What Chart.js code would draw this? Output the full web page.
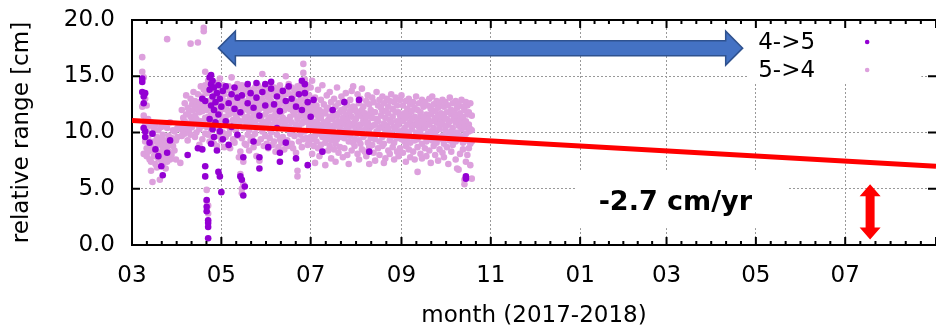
<!DOCTYPE html>
<html>
<head>
<meta charset="utf-8">
<script src="https://cdn.jsdelivr.net/npm/chart.js@4.4.1/dist/chart.umd.min.js"></script>
<style>
  html, body { margin: 0; padding: 0; background: #fff; }
  #wrap { position: relative; width: 936px; height: 327px; }
</style>
</head>
<body>
<div id="wrap"><canvas id="range-chart"></canvas></div>
<script>
// x values are days since 2017-03-01
const tickDays = [0, 61, 122, 184, 245, 306, 365, 426, 487, 549];
const tickLabels = ['03', '05', '07', '09', '11', '01', '03', '05', '07', ''];
const yTicks = [0, 5, 10, 15, 20];

const seriesNames = ['4->5', '5->4'];
const seriesColors = ['#9400d3', '#dda0dd'];

// rows: [day, value, value, ...]  (relative range in cm)
const purpleMarApr = [
  [7, 14.8, 14.5, 13.6], [8, 13.2, 12.6, 10.4], [9, 13.5, 10.1, 9.6],
  [12, 9.1], [14, 9.9], [16, 8.5], [18, 7.9], [20, 7.0], [21, 6.2],
  [24, 8.2], [26, 9.3], [38, 8.0], [45, 8.6], [48, 8.5, 13.0],
  [50, 12.8, 7.0, 6.1], [51, 4.0, 3.4, 3.0], [52, 2.2, 1.95, 1.6, 0.6],
  [53, 14.9, 13.8, 11.2], [54, 15.1, 14.3, 12.4, 9.0], [55, 14.6, 13.2, 10.3],
  [56, 14.0, 12.0, 9.6], [57, 12.7, 10.9], [58, 13.5, 8.4], [59, 14.2, 6.5, 11.6], [60, 6.1, 13.0, 10.1]
];
const purpleMayJun = [
  [61, 4.7, 12.3], [62, 13.7, 9.4], [64, 14.1, 11.0], [66, 12.6, 8.9], [68, 13.4, 10.5],
  [70, 14.0, 12.1], [72, 13.1, 9.8], [74, 6.1, 11.8], [75, 5.8, 13.3], [76, 4.4, 7.8],
  [77, 5.2], [79, 14.3, 12.6], [81, 13.5], [83, 12.2, 9.2], [85, 14.4, 13.1],
  [87, 6.8, 7.8, 11.5], [89, 13.6], [91, 14.3, 12.4], [93, 8.7], [95, 13.9, 14.5],
  [97, 12.5], [99, 13.2, 10.4], [101, 7.4, 8.2, 11.9], [103, 13.7], [105, 12.8, 9.1],
  [107, 14.1], [109, 13.0], [112, 7.7, 12.3], [114, 13.4], [116, 14.6, 12.0],
  [118, 14.3, 13.5], [120, 7.1, 12.7], [122, 11.4]
];
const purpleLater = [
  [124, 12.9], [130, 8.3], [137, 12.0], [145, 12.7], [155, 12.9], [162, 8.3], [228, 6.1, 5.9]
];

const plumMarApr = [
  [7, 16.7, 15.4, 12.3], [8, 14.9, 11.5, 10.4, 8.1], [9, 13.0, 10.8, 9.2],
  [10, 12.4, 10.1, 8.6, 7.9], [11, 11.2, 9.5, 8.3], [12, 10.6, 9.0, 7.6],
  [13, 10.9, 8.8, 7.4, 6.6], [14, 9.9, 8.4, 5.6], [15, 10.3, 9.2, 7.9],
  [16, 10.7, 8.6, 7.2], [17, 9.6, 8.1, 6.9], [18, 10.2, 9.0, 7.7],
  [19, 9.4, 8.2, 5.8], [20, 10.5, 8.9, 7.5], [21, 9.8, 8.5, 7.1],
  [22, 10.8, 9.3, 8.0], [23, 9.1, 7.8, 6.8], [24, 18.3, 10.4, 8.7, 7.4],
  [25, 9.7, 8.3], [26, 10.9, 9.1, 7.6], [27, 9.5, 8.0], [28, 10.2, 8.8],
  [29, 10.1, 8.4], [30, 9.3, 7.6], [31, 10.4, 9.6], [33, 10.3, 7.3],
  [34, 12.0, 10.6, 9.7], [35, 11.3, 10.1], [36, 12.6, 11.0, 9.9], [37, 13.3, 11.6, 10.4],
  [38, 12.2, 10.8, 9.3], [39, 11.9, 10.2], [40, 17.9, 13.0, 11.4, 9.8], [41, 12.5, 11.1, 10.5],
  [42, 13.6, 12.0, 10.9], [43, 12.8, 11.5, 9.6], [44, 12.3, 11.2, 10.0], [45, 18.0, 13.4, 12.1, 10.7],
  [46, 12.7, 11.8, 10.3, 8.9], [47, 14.1, 12.4, 11.0], [48, 13.2, 11.9, 10.6, 9.4],
  [49, 19.3, 19.0, 13.8, 12.2, 10.8], [50, 15.4, 14.2, 12.6, 11.3, 9.9],
  [51, 13.5, 12.0, 10.5, 4.9, 3.9], [52, 14.6, 12.8, 11.4, 9.8, 3.5, 2.8],
  [53, 13.9, 12.3, 10.9, 9.2], [54, 14.3, 12.9, 11.6, 10.2], [55, 13.1, 12.1, 10.8, 9.5],
  [56, 14.0, 12.5, 11.2, 9.0], [57, 13.6, 11.8, 10.4], [58, 14.4, 12.7, 11.5, 8.8],
  [59, 13.3, 12.2, 10.6, 9.7], [60, 14.8, 13.0, 11.7, 10.1]
];
const plumMayJun = [
  [61, 13.7, 12.4, 11.0, 9.3], [62, 14.2, 12.9, 11.3, 10.0], [63, 13.4, 12.1, 10.7, 8.7],
  [64, 13.9, 12.6, 11.4, 9.6], [65, 13.8, 12.0, 10.9], [66, 14.1, 12.8, 11.6, 9.9],
  [67, 13.2, 11.7, 10.3, 8.6], [68, 14.9, 13.1, 11.9, 10.5], [69, 13.5, 12.3, 11.1, 9.4],
  [70, 14.0, 12.7, 10.8, 9.1], [71, 13.6, 12.2, 11.5, 10.2], [72, 14.3, 12.5, 11.2, 9.7],
  [73, 13.0, 11.8, 10.6, 7.8], [74, 13.9, 12.4, 11.0, 8.3, 6.3], [75, 14.2, 12.9, 11.7, 9.5, 5.0, 4.6],
  [76, 13.4, 12.0, 10.4, 7.4, 5.4], [77, 14.0, 12.6, 11.3, 9.0], [78, 13.7, 12.3, 10.9, 8.9],
  [79, 13.6, 12.8, 11.4, 9.8], [80, 13.1, 11.9, 10.2, 8.4], [81, 13.8, 12.6, 11.1, 9.3],
  [82, 13.2, 12.2, 10.7, 9.6], [83, 13.3, 12.0, 11.5, 8.7], [84, 14.0, 12.7, 10.9, 9.9],
  [85, 13.5, 11.8, 10.4, 7.9], [86, 14.2, 12.4, 11.2, 9.1], [87, 13.0, 12.1, 10.6, 7.5],
  [88, 13.9, 12.5, 11.3, 9.4], [89, 15.2, 12.9, 11.0, 10.1], [90, 13.4, 12.2, 10.5, 8.8],
  [91, 14.1, 12.6, 11.6, 9.7], [92, 13.6, 11.9, 10.8, 9.0], [93, 13.1, 12.3, 11.1, 8.6],
  [94, 13.2, 12.0, 10.3, 9.5], [95, 14.0, 12.8, 11.4, 10.0], [96, 13.7, 12.4, 10.7, 8.9],
  [97, 14.0, 12.1, 11.2, 9.2], [98, 13.3, 11.7, 10.6, 8.3], [99, 13.5, 12.6, 11.5, 9.8],
  [100, 13.8, 12.2, 10.9, 8.7], [101, 14.2, 12.5, 11.0, 9.4], [102, 13.1, 11.8, 10.4, 9.1],
  [103, 13.4, 12.9, 11.3, 9.6], [104, 13.6, 12.0, 10.8, 8.5], [105, 15.0, 13.4, 12.3, 10.6],
  [106, 13.9, 12.2, 11.1, 9.3], [107, 14.3, 12.7, 10.5, 8.8], [108, 13.4, 12.1, 11.4, 9.9],
  [109, 14.0, 12.4, 10.9, 9.0], [110, 13.2, 11.9, 10.3, 8.6], [111, 13.8, 12.8, 11.6, 9.7],
  [112, 13.7, 12.3, 10.7, 8.2], [113, 14.1, 12.0, 11.2, 6.6, 6.1], [114, 13.5, 12.5, 10.6, 9.2],
  [115, 14.2, 12.9, 11.5, 9.8], [116, 13.9, 12.2, 10.8, 8.7], [117, 16.1, 15.3, 13.6, 12.4, 11.0, 9.4],
  [118, 14.7, 13.0, 11.7, 10.1], [119, 13.8, 12.6, 11.3, 9.5], [120, 14.2, 12.1, 10.9, 8.9],
  [121, 13.3, 11.8, 10.5, 9.1], [122, 14.0, 12.5, 11.2, 9.6]
];
const plumJulAug = [
  [123, 14.6, 12.2, 10.9, 9.4, 8.1], [124, 11.6, 10.3, 8.8], [125, 13.1, 11.9, 10.6, 9.7, 7.3],
  [126, 12.4, 11.0, 9.2], [127, 13.8, 11.5, 10.1, 8.6], [128, 12.0, 10.7, 9.9, 7.9],
  [129, 12.9, 11.3, 10.4, 8.9], [130, 14.2, 11.8, 9.6, 8.3], [131, 12.5, 10.9, 10.0],
  [132, 11.7, 10.5, 9.1, 7.1], [133, 13.3, 12.1, 10.8, 9.5], [134, 12.2, 11.1, 9.8, 8.4],
  [135, 13.6, 11.4, 10.2, 8.8], [136, 12.7, 10.6, 9.3, 7.7], [137, 11.9, 11.2, 10.3],
  [138, 13.0, 11.7, 9.7, 8.5], [139, 12.3, 10.8, 9.0, 7.4], [140, 14.0, 11.5, 10.6, 9.4],
  [141, 12.6, 11.0, 9.9, 8.2], [142, 11.8, 10.4, 8.7], [143, 13.2, 12.0, 10.9, 9.6],
  [144, 12.8, 11.3, 10.1, 7.8], [145, 12.1, 10.7, 9.5, 8.6], [146, 13.5, 11.6, 10.2],
  [147, 12.4, 11.1, 9.8, 8.0], [148, 11.6, 10.5, 9.2, 7.2], [149, 12.9, 11.9, 10.8, 9.7],
  [150, 13.7, 11.4, 10.0, 8.4], [151, 14.1, 12.3, 10.6, 9.1], [152, 12.2, 10.9, 9.4, 8.8],
  [153, 11.9, 11.2, 10.3], [154, 13.4, 11.7, 9.9, 8.1], [155, 12.6, 10.6, 9.3, 7.6],
  [156, 13.0, 11.5, 10.7, 9.0], [157, 13.9, 12.0, 10.2, 8.5], [158, 12.3, 11.1, 9.6],
  [159, 11.7, 10.8, 9.8, 8.3], [160, 12.8, 11.4, 10.4, 7.9], [161, 13.3, 10.9, 9.1],
  [162, 12.5, 11.6, 10.0, 8.7, 7.2], [163, 12.0, 10.5, 9.5], [164, 13.1, 11.3, 10.6, 8.9],
  [165, 12.7, 11.8, 9.7, 8.2], [166, 11.8, 10.7, 9.4, 7.5], [167, 13.6, 11.2, 10.1],
  [168, 12.4, 11.0, 9.9, 8.6], [169, 12.9, 10.4, 9.2, 8.0], [170, 12.2, 11.5, 10.5],
  [171, 13.2, 11.9, 9.6, 8.8], [172, 12.6, 10.8, 9.0, 7.3], [173, 11.9, 11.3, 10.2, 7.7],
  [174, 13.0, 10.6, 9.8], [175, 12.3, 11.7, 10.4, 8.4], [176, 12.8, 11.1, 9.3, 8.1],
  [177, 13.4, 10.9, 10.0], [178, 12.1, 11.4, 9.7, 8.7], [179, 12.7, 10.5, 9.1, 7.6],
  [180, 13.1, 11.8, 10.3], [181, 12.4, 11.0, 9.5, 8.3], [182, 11.8, 10.7, 9.9, 7.9],
  [183, 12.9, 11.5, 10.1, 8.6], [184, 13.3, 11.2, 9.4]
];
const plumSepOct = [
  [185, 12.4, 11.0, 9.7, 8.2], [186, 11.7, 10.4, 9.2], [187, 12.8, 11.3, 10.1, 8.8, 7.4],
  [188, 12.1, 10.7, 9.5], [189, 13.0, 11.6, 9.9, 8.5], [190, 12.5, 10.9, 9.1, 7.8],
  [191, 11.9, 11.2, 10.3], [192, 12.7, 10.6, 9.6, 8.3], [193, 12.2, 11.4, 9.3, 7.6],
  [194, 13.2, 10.8, 10.0], [195, 12.0, 11.1, 9.4, 8.7, 6.5], [196, 12.6, 10.5, 9.8],
  [197, 11.8, 11.5, 10.2, 8.1], [198, 12.9, 10.9, 9.0, 7.7], [199, 12.3, 11.3, 9.7],
  [200, 12.7, 10.6, 10.4, 8.6], [201, 11.6, 10.8, 9.2, 7.9], [202, 12.4, 11.2, 9.9],
  [203, 13.0, 10.7, 9.5, 8.4], [204, 12.1, 11.6, 10.1, 7.3], [205, 13.2, 11.0, 9.3],
  [206, 12.5, 10.4, 9.8, 8.8], [207, 11.9, 11.3, 10.0, 8.0], [208, 12.8, 10.9, 9.1],
  [209, 12.2, 11.5, 9.6, 7.5], [210, 12.6, 10.6, 10.3, 8.5], [211, 11.7, 11.1, 9.4],
  [212, 12.9, 10.8, 9.7, 8.2], [213, 12.3, 11.4, 9.0, 7.8], [214, 12.7, 10.5, 10.2],
  [215, 11.8, 11.2, 9.5, 8.7], [216, 12.4, 10.7, 9.9, 7.2], [217, 13.1, 11.0, 9.3],
  [218, 12.0, 11.6, 10.1, 8.3], [219, 12.6, 10.4, 9.6, 8.9], [220, 11.9, 11.3, 9.8],
  [221, 12.8, 10.9, 9.2, 7.6], [222, 12.2, 11.5, 10.0, 6.8], [223, 12.5, 10.6, 9.4, 6.7],
  [224, 11.7, 11.1, 9.7, 8.1], [225, 12.9, 10.8, 10.3], [226, 12.3, 11.4, 9.1, 8.5],
  [227, 12.0, 10.5, 9.5, 5.8, 5.4], [228, 12.7, 11.0, 9.9, 7.4], [229, 12.4, 11.6, 9.3, 8.0],
  [230, 11.8, 10.7, 10.1, 8.6], [231, 12.6, 10.3, 9.0, 7.1], [232, 11.5, 10.2, 9.2, 5.9]
];

// linear fit, -2.7 cm/yr
const trendDays = [0, 549];
const trendValues = [11.07, 7.0];

// annotations (data coordinates)
const blueArrowDays = [59, 417];
const blueArrowValue = 17.5;
const redArrowDay = 504;
const redArrowValues = [0.5, 5.4];
const rateLabel = '-2.7 cm/yr';

const FONT = '"DejaVu Sans", sans-serif';

const rowsToPoints = rows => rows.flatMap(r => r.slice(1).map(v => ({ x: r[0], y: v })));

const decorations = {
  id: 'decorations',
  beforeDatasetsDraw(chart) {
    const { ctx, scales: { x, y } } = chart;
    ctx.save();
    ctx.fillStyle = '#fff';
    // legend key box
    ctx.fillRect(x.getPixelForValue(421), y.getPixelForValue(20) + 1,
      x.getPixelForValue(539) - x.getPixelForValue(421), y.getPixelForValue(14.4) - y.getPixelForValue(20));
    // box behind the rate label
    ctx.fillRect(x.getPixelForValue(302.6), y.getPixelForValue(6.67),
      x.getPixelForValue(447.4) - x.getPixelForValue(302.6), y.getPixelForValue(1.5) - y.getPixelForValue(6.67));
    ctx.restore();
  },
  afterDatasetsDraw(chart) {
    const { ctx, scales: { x, y } } = chart;
    ctx.save();

    // blue double arrow
    const x1 = x.getPixelForValue(blueArrowDays[0]), x2 = x.getPixelForValue(blueArrowDays[1]);
    const yc = y.getPixelForValue(blueArrowValue);
    const sh = 7.5, hh = 17, hl = 17;
    ctx.beginPath();
    ctx.moveTo(x1, yc);
    ctx.lineTo(x1 + hl, yc - hh); ctx.lineTo(x1 + hl, yc - sh);
    ctx.lineTo(x2 - hl, yc - sh); ctx.lineTo(x2 - hl, yc - hh);
    ctx.lineTo(x2, yc);
    ctx.lineTo(x2 - hl, yc + hh); ctx.lineTo(x2 - hl, yc + sh);
    ctx.lineTo(x1 + hl, yc + sh); ctx.lineTo(x1 + hl, yc + hh);
    ctx.closePath();
    ctx.fillStyle = '#4472c4';
    ctx.fill();
    ctx.strokeStyle = '#2f528f';
    ctx.lineWidth = 1.5;
    ctx.stroke();

    // red vertical double arrow
    const xr = x.getPixelForValue(redArrowDay);
    const yb = y.getPixelForValue(redArrowValues[0]), yt = y.getPixelForValue(redArrowValues[1]);
    const sw = 4.5, hw = 10.5, hv = 12;
    ctx.beginPath();
    ctx.moveTo(xr, yt);
    ctx.lineTo(xr + hw, yt + hv); ctx.lineTo(xr + sw, yt + hv);
    ctx.lineTo(xr + sw, yb - hv); ctx.lineTo(xr + hw, yb - hv);
    ctx.lineTo(xr, yb);
    ctx.lineTo(xr - hw, yb - hv); ctx.lineTo(xr - sw, yb - hv);
    ctx.lineTo(xr - sw, yt + hv); ctx.lineTo(xr - hw, yt + hv);
    ctx.closePath();
    ctx.fillStyle = '#ff0000';
    ctx.fill();

    // rate label
    ctx.fillStyle = '#000';
    ctx.font = 'bold 27px ' + FONT;
    ctx.textAlign = 'center';
    ctx.textBaseline = 'middle';
    ctx.fillText(rateLabel, x.getPixelForValue(371), y.getPixelForValue(3.73));

    // key
    ctx.font = '23px ' + FONT;
    ctx.textAlign = 'left';
    [17.96, 15.47].forEach((v, i) => {
      const py = y.getPixelForValue(v);
      ctx.fillStyle = '#000';
      ctx.fillText(seriesNames[i], x.getPixelForValue(427.6), py);
      ctx.fillStyle = seriesColors[i];
      ctx.beginPath();
      ctx.arc(x.getPixelForValue(502), py - 1, 2.3, 0, Math.PI * 2);
      ctx.fill();
    });
    ctx.restore();
  },
  afterDraw(chart) {
    const { ctx, chartArea: a, scales: { x, y } } = chart;
    ctx.save();
    ctx.strokeStyle = '#000';
    ctx.lineWidth = 2;
    ctx.beginPath();
    ctx.moveTo(a.left - 1, a.top); ctx.lineTo(a.right, a.top);
    tickDays.forEach((d, i) => {
      const px = x.getPixelForValue(d);
      ctx.moveTo(px, a.top); ctx.lineTo(px, a.top + 8);
      ctx.moveTo(px, a.bottom); ctx.lineTo(px, a.bottom - 8);
      if (i < tickDays.length - 1) {
        for (let k = 1; k < 6; k++) {
          const m = x.getPixelForValue(d + (tickDays[i + 1] - d) * k / 6);
          ctx.moveTo(m, a.top); ctx.lineTo(m, a.top + 4);
          ctx.moveTo(m, a.bottom); ctx.lineTo(m, a.bottom - 4);
        }
      }
    });
    yTicks.forEach(v => {
      const py = y.getPixelForValue(v);
      ctx.moveTo(a.left, py); ctx.lineTo(a.left + 8, py);
      ctx.moveTo(a.right, py); ctx.lineTo(a.right - 8, py);
    });
    ctx.stroke();
    ctx.restore();
  }
};

const setupChart = () => {
  const ctx = document.getElementById('range-chart').getContext('2d');
  new Chart(ctx, {
    type: 'scatter',
    data: {
      datasets: [
        {
          type: 'line',
          data: trendDays.map((d, i) => ({ x: d, y: trendValues[i] })),
          borderColor: '#ff0000',
          borderWidth: 5,
          pointRadius: 0,
          showLine: true,
          order: 0
        },
        {
          label: seriesNames[0],
          data: rowsToPoints([...purpleMarApr, ...purpleMayJun, ...purpleLater]),
          backgroundColor: seriesColors[0],
          pointRadius: 3.3,
          borderWidth: 0,
          order: 1
        },
        {
          label: seriesNames[1],
          data: rowsToPoints([...plumMarApr, ...plumMayJun, ...plumJulAug, ...plumSepOct]),
          backgroundColor: seriesColors[1],
          pointRadius: 3.3,
          borderWidth: 0,
          order: 2
        }
      ]
    },
    options: {
      responsive: true,
      maintainAspectRatio: false,
      animation: false,
      layout: { autoPadding: false, padding: { top: 20, right: 0, bottom: 0, left: 0 } },
      plugins: { legend: { display: false }, tooltip: { enabled: false } },
      scales: {
        x: {
          type: 'linear',
          min: 0,
          max: 549,
          afterBuildTicks: s => { s.ticks = tickDays.map(v => ({ value: v })); },
          afterFit: s => { s.height = 82; },
          ticks: {
            autoSkip: false,
            maxRotation: 0,
            padding: 0,
            color: '#000',
            font: { family: FONT, size: 23 },
            callback: (v, i) => tickLabels[i]
          },
          grid: { color: '#999', lineWidth: 1, drawTicks: true, tickLength: 17, tickColor: 'rgba(0,0,0,0)' },
          border: { display: true, color: '#000', width: 2, dash: [2, 2] },
          title: {
            display: true,
            text: 'month (2017-2018)',
            color: '#000',
            font: { family: FONT, size: 23 },
            padding: { top: 0, bottom: -3 }
          }
        },
        y: {
          min: 0,
          max: 20,
          afterBuildTicks: s => { s.ticks = yTicks.map(v => ({ value: v })); },
          afterFit: s => { s.width = 132; },
          ticks: {
            padding: 3,
            color: '#000',
            font: { family: FONT, size: 23 },
            callback: v => v.toFixed(1)
          },
          grid: { color: '#999', lineWidth: 1, drawTicks: true, tickLength: 14, tickColor: 'rgba(0,0,0,0)' },
          border: { display: true, color: '#000', width: 2, dash: [2, 2] },
          title: {
            display: true,
            text: 'relative range [cm]',
            color: '#000',
            font: { family: FONT, size: 23 },
            padding: { top: 8, bottom: 0 }
          }
        }
      }
    },
    plugins: [decorations]
  });
};

document.addEventListener('DOMContentLoaded', () => {
  setupChart();
});
</script>
</body>
</html>
